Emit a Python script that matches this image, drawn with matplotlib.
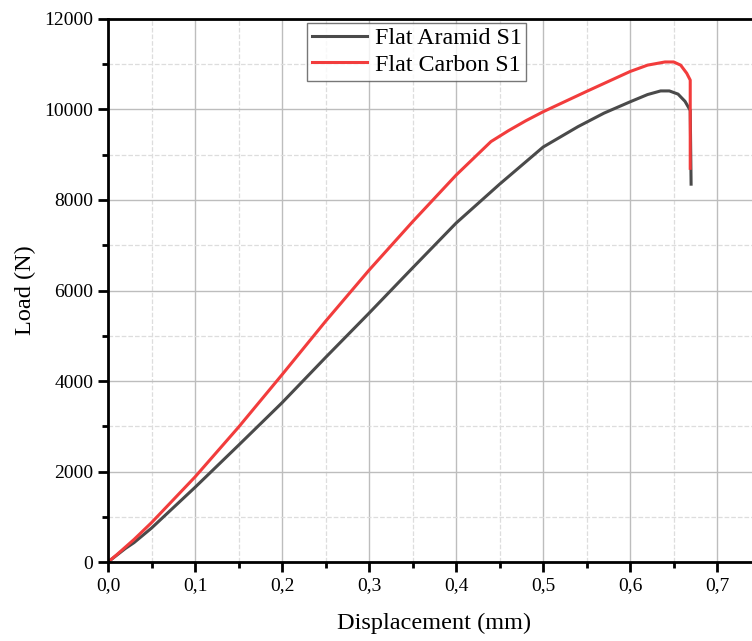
import matplotlib
matplotlib.use('Agg')
import matplotlib.pyplot as plt
from matplotlib.ticker import MultipleLocator, FuncFormatter

plt.rcParams['font.family'] = ['Liberation Serif', 'DejaVu Serif']

# displacement (mm) / load (N)
aramid_x = [0.0, 0.01, 0.02, 0.03, 0.05, 0.1, 0.15, 0.2, 0.25, 0.3, 0.35, 0.4, 0.45,
            0.5, 0.54, 0.57, 0.6, 0.62, 0.635, 0.645, 0.655, 0.663, 0.669, 0.67]
aramid_y = [0, 150, 300, 430, 750, 1650, 2580, 3520, 4520, 5500, 6500, 7490, 8350,
            9170, 9620, 9920, 10170, 10330, 10410, 10410, 10340, 10180, 9980, 8350]

carbon_x = [0.0, 0.01, 0.02, 0.03, 0.05, 0.1, 0.15, 0.2, 0.25, 0.3, 0.35, 0.4, 0.42,
            0.44, 0.46, 0.48, 0.5, 0.55, 0.6, 0.62, 0.64, 0.65, 0.658, 0.665, 0.669, 0.669]
carbon_y = [0, 160, 330, 500, 870, 1880, 2980, 4140, 5320, 6450, 7520, 8550, 8920,
            9290, 9530, 9750, 9950, 10400, 10840, 10980, 11050, 11050, 10980, 10800, 10650, 8700]

fig = plt.figure(figsize=(7.52, 6.41), dpi=100)
ax = fig.add_axes([0.1436, 0.1232, 0.868, 0.8472])

ax.plot(aramid_x, aramid_y, color='#4a4a4a', lw=2.2, label='Flat Aramid S1')
ax.plot(carbon_x, carbon_y, color='#f23c3c', lw=2.2, label='Flat Carbon S1')

ax.set_xlim(0, 0.75)
ax.set_ylim(0, 12000)
ax.xaxis.set_major_locator(MultipleLocator(0.1))
ax.xaxis.set_minor_locator(MultipleLocator(0.05))
ax.yaxis.set_major_locator(MultipleLocator(2000))
ax.yaxis.set_minor_locator(MultipleLocator(1000))
ax.xaxis.set_major_formatter(FuncFormatter(lambda v, p: f'{v:.1f}'.replace('.', ',')))

ax.grid(which='major', color='#bdbdbd', lw=1.0, ls='-')
ax.grid(which='minor', color='#dddddd', lw=0.9, ls='--')
ax.set_axisbelow(True)

for s in ax.spines.values():
    s.set_linewidth(2)
ax.tick_params(which='major', direction='out', length=7, width=2, labelsize=14)
ax.tick_params(which='minor', direction='out', length=4, width=2)

ax.set_xlabel('Displacement (mm)', fontsize=17.5, labelpad=14)
ax.set_ylabel('Load (N)', fontsize=17.5, labelpad=6)

leg = ax.legend(loc='upper left', bbox_to_anchor=(0.3, 1.0), fontsize=17.3,
                frameon=True, fancybox=False, handlelength=2.3, borderpad=0.2,
                labelspacing=0.2, handletextpad=0.3, borderaxespad=0.15)
leg.get_frame().set_edgecolor('#555555')
leg.get_frame().set_linewidth(1)

fig.savefig('out.png', dpi=100)
